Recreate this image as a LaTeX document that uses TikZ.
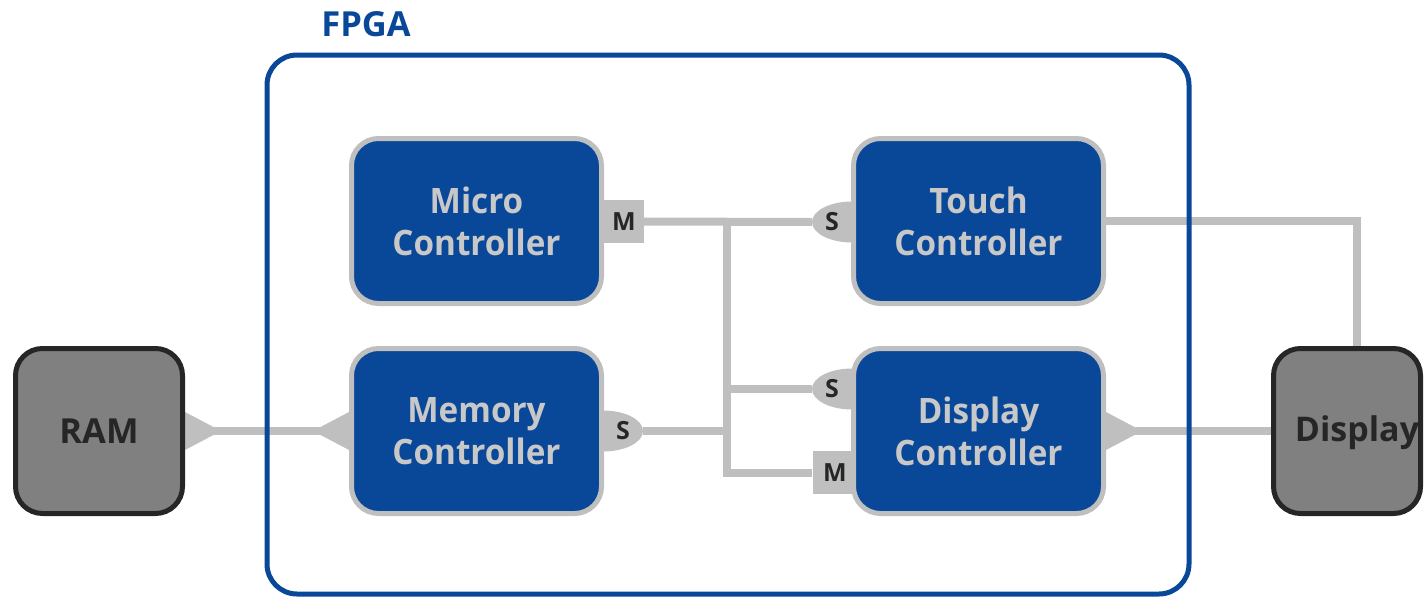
\documentclass[tikz,border=0pt]{standalone}
\usepackage{fontspec}
\setmainfont{Open Sans}
\newfontfamily\blockfont{Open Sans}[FakeStretch=0.95]
\usetikzlibrary{shapes.geometric,calc}
\definecolor{fpgablue}{RGB}{9,72,153}
\definecolor{wiregray}{RGB}{191,191,191}
\definecolor{labelgray}{RGB}{200,200,200}
\definecolor{devfill}{RGB}{128,128,128}
\definecolor{devline}{RGB}{38,38,38}
\pgfdeclarelayer{wires}
\pgfsetlayers{wires,main}
\tikzset{
  wire/.style={draw=wiregray, line width=8pt},
  taper/.style={fill=wiregray},
  ipblock/.style={draw=wiregray, fill=fpgablue, line width=5pt, rounded corners=27pt,
    minimum width=250pt, minimum height=165pt, inner sep=0pt, align=center,
    text=labelgray, font=\blockfont\bfseries\fontsize{35}{42}\selectfont},
  device/.style={draw=devline, fill=devfill, line width=5pt, rounded corners=27pt,
    minimum height=165pt, inner sep=0pt, text=devline,
    font=\bfseries\fontsize{34.5}{40}\selectfont},
  mtab/.style={fill=wiregray, minimum width=42pt, minimum height=43pt, inner sep=0pt},
  stab/.style={ellipse, fill=wiregray, minimum width=80pt, minimum height=41pt, inner sep=0pt},
  tabtext/.style={text=devline, font=\bfseries\fontsize{25}{28}\selectfont, inner sep=0pt},
}
\begin{document}
\begin{tikzpicture}[x=1pt, y=-1pt]
\useasboundingbox (0,0) rectangle (1424,597);

% FPGA enclosure and title
\node[draw=fpgablue, line width=5pt, rounded corners=30pt, minimum width=922pt,
  minimum height=539pt, inner sep=0pt] (fpga) at (728,324.5) {};
\node[text=fpgablue, font=\bfseries\fontsize{34.5}{38}\selectfont] (fpgatitle) at (366,24) {FPGA};

% functional blocks
\node[ipblock] (micro) at (476.5,221) {Micro\\Controller};
\node[ipblock] (touch) at (978.5,221) {Touch\\Controller};
\node[ipblock] (mem) at (476.5,431) {Memory\\Controller};
\node[ipblock] (dispc) at (978.5,431) {Display\\Controller};

% external devices
\node[device, minimum width=167pt] (ram) at (99,431) {RAM};
\node[device, minimum width=147pt] (disp) at (1347,431) {};
\node[text=devline, font=\bfseries\fontsize{34}{40}\selectfont, anchor=base, inner sep=0pt]
  (disptext) at (1357,441) {Display};

% bus tabs, tucked under the block outlines
\begin{pgfonlayer}{wires}
\node[mtab] (mm) at (622.5,221.5) {};
\node[stab] (ms) at (603,431) {};
\node[stab] (ts) at (852,222) {};
\node[stab] (ds) at (852,389) {};
\node[mtab] (dm) at (833.5,472.5) {};
\end{pgfonlayer}
\node[tabtext] (mmtext) at (624,221.5) {M};
\node[tabtext] (mstext) at (623,431) {S};
\node[tabtext] (tstext) at (832,222) {S};
\node[tabtext] (dstext) at (832,389) {S};
\node[tabtext] (dmtext) at (835,472.5) {M};

\begin{pgfonlayer}{wires}
% shared bus
\coordinate (bus) at (727,221.5);
\draw[wire] (mm.east) -- (ts.west);
\draw[wire] (bus) |- (dm.west);
\draw[wire] (bus |- ds.west) -- (ds.west);
\draw[wire] (ms.east) -- (bus |- ms.east);

% external links with tapered ends
\draw[wire] (ram.east) -- (mem.west);
\fill[taper] ($(ram.east)+(0,-19)$) -- ($(ram.east)+(36,0)$) -- ($(ram.east)+(0,19)$) -- cycle;
\fill[taper] ($(mem.west)+(0,-19)$) -- ($(mem.west)+(-36,0)$) -- ($(mem.west)+(0,19)$) -- cycle;
\draw[wire] (dispc.east) -- (disp.west);
\fill[taper] ($(dispc.east)+(0,-19)$) -- ($(dispc.east)+(36,0)$) -- ($(dispc.east)+(0,19)$) -- cycle;
\draw[wire] (touch.east) -| (disptext |- disp.north);
\end{pgfonlayer}
\end{tikzpicture}
\end{document}
